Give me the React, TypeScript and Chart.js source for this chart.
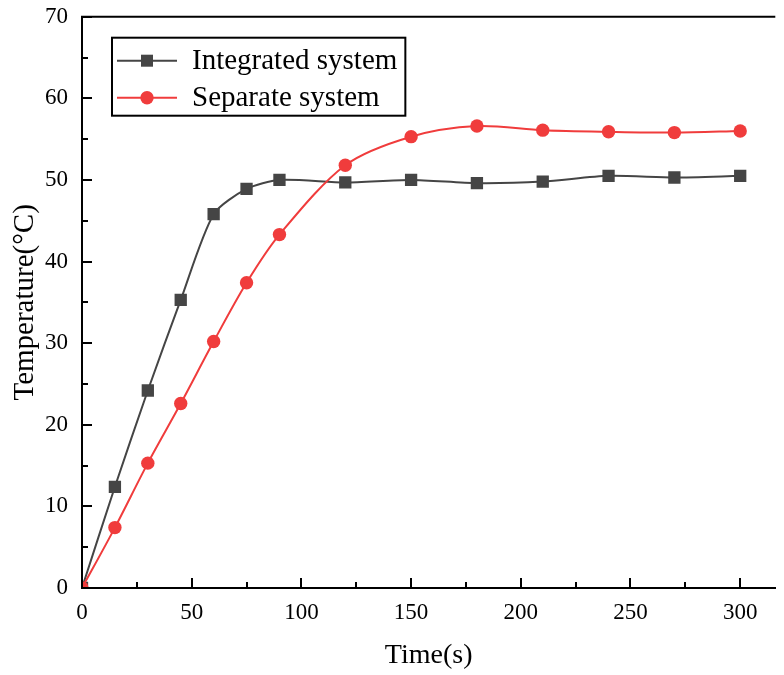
import React, { useEffect, useRef } from "react";
import { Chart, registerables } from "chart.js";

Chart.register(...registerables);

const timeS = [0, 15, 30, 45, 60, 75, 90, 120, 150, 180, 210, 240, 270, 300];
const integratedTemp = [0, 12.4, 24.2, 35.3, 45.8, 48.9, 50.0, 49.7, 50.0, 49.6, 49.8, 50.5, 50.3, 50.5];
const separateTemp = [0, 7.4, 15.3, 22.6, 30.2, 37.4, 43.3, 51.8, 55.3, 56.6, 56.1, 55.9, 55.8, 56.0];
const seriesLabels = ["Integrated system", "Separate system"];
const xTitle = "Time(s)";
const yTitle = "Temperature(\u00B0C)";

const FONT = "'Liberation Serif', 'Times New Roman', serif";
const GRAY = "#454545";
const RED = "#f03c3c";

const frameAndTicks = {
  id: "frameAndTicks",
  afterDatasetsDraw(chart: any) {
    const { ctx, chartArea, scales } = chart;
    const x = scales.x;
    const y = scales.y;
    ctx.save();
    ctx.strokeStyle = "#000";
    ctx.lineWidth = 2;
    ctx.beginPath();
    ctx.moveTo(chartArea.left - 1, chartArea.top);
    ctx.lineTo(chartArea.right, chartArea.top);
    ctx.stroke();
    for (let v = 0; v <= x.max; v += 25) {
      const px = Math.round(x.getPixelForValue(v));
      const len = v % 50 === 0 ? 10 : 6;
      ctx.beginPath();
      ctx.moveTo(px, chartArea.bottom);
      ctx.lineTo(px, chartArea.bottom - len);
      ctx.stroke();
    }
    for (let v = 0; v <= y.max; v += 5) {
      const py = Math.round(y.getPixelForValue(v));
      const len = v % 10 === 0 ? 10 : 6;
      ctx.beginPath();
      ctx.moveTo(chartArea.left, py);
      ctx.lineTo(chartArea.left + len, py);
      ctx.stroke();
    }
    ctx.restore();
  },
};

const boxLegend = {
  id: "boxLegend",
  afterDraw(chart: any) {
    const { ctx, chartArea } = chart;
    const left = chartArea.left + 30;
    const top = chartArea.top + 21;
    const rowH = 37;
    const textX = left + 80;
    ctx.save();
    ctx.font = `29px ${FONT}`;
    let maxW = 0;
    chart.data.datasets.forEach((ds: any) => {
      maxW = Math.max(maxW, ctx.measureText(ds.label).width);
    });
    const w = 80 + maxW + 8;
    const h = rowH * 2 + 4;
    ctx.strokeStyle = "#000";
    ctx.lineWidth = 2;
    ctx.strokeRect(left, top, w, h);
    chart.data.datasets.forEach((ds: any, i: number) => {
      const cy = top + 23 + i * rowH;
      ctx.strokeStyle = ds.borderColor;
      ctx.lineWidth = 2;
      ctx.beginPath();
      ctx.moveTo(left + 5, cy);
      ctx.lineTo(left + 65, cy);
      ctx.stroke();
      ctx.fillStyle = ds.pointBackgroundColor;
      if (ds.pointStyle === "rect") {
        ctx.fillRect(left + 35 - 6, cy - 6, 12, 12);
      } else {
        ctx.beginPath();
        ctx.arc(left + 35, cy, 6.7, 0, Math.PI * 2);
        ctx.fill();
      }
      ctx.fillStyle = "#000";
      ctx.textBaseline = "middle";
      ctx.textAlign = "left";
      ctx.fillText(ds.label, textX, cy + 1);
    });
    ctx.restore();
  },
};

export default function App() {
  const ref = useRef<HTMLCanvasElement | null>(null);
  useEffect(() => {
    if (!ref.current) return;
    const chart = new Chart(ref.current, {
      type: "line",
      data: {
        datasets: [
          {
            label: seriesLabels[0],
            data: timeS.map((t, i) => ({ x: t, y: integratedTemp[i] })),
            borderColor: GRAY,
            backgroundColor: GRAY,
            pointBackgroundColor: GRAY,
            pointBorderColor: GRAY,
            pointStyle: "rect",
            pointRadius: 8.7,
            pointBorderWidth: 0,
            borderWidth: 2,
            tension: 0.25,
            order: 1,
          },
          {
            label: seriesLabels[1],
            data: timeS.map((t, i) => ({ x: t, y: separateTemp[i] })),
            borderColor: RED,
            backgroundColor: RED,
            pointBackgroundColor: RED,
            pointBorderColor: RED,
            pointStyle: "circle",
            pointRadius: 6.7,
            pointBorderWidth: 0,
            borderWidth: 2,
            tension: 0.3,
            order: 0,
          },
        ],
      },
      options: {
        animation: false,
        responsive: true,
        maintainAspectRatio: false,
        layout: { padding: { top: 8, right: 0, left: 0, bottom: 0 } },
        plugins: { legend: { display: false }, tooltip: { enabled: false } },
        scales: {
          x: {
            type: "linear",
            min: 0,
            max: 316,
            grid: { display: false, drawTicks: false },
            border: { display: true, color: "#000", width: 2 },
            ticks: {
              stepSize: 50,
              includeBounds: false,
              padding: 11,
              color: "#000",
              font: { family: FONT, size: 23 },
              maxRotation: 0,
            },
            title: {
              display: true,
              text: xTitle,
              color: "#000",
              font: { family: FONT, size: 28 },
              padding: { top: 0, bottom: 3 },
            },
            afterFit: (s: any) => {
              s.height = 87;
              s.paddingLeft = 0;
              s.paddingRight = 0;
            },
          },
          y: {
            type: "linear",
            min: 0,
            max: 70,
            grid: { display: false, drawTicks: false },
            border: { display: true, color: "#000", width: 2 },
            ticks: {
              stepSize: 10,
              padding: 14,
              color: "#000",
              font: { family: FONT, size: 23 },
            },
            title: {
              display: true,
              text: yTitle,
              color: "#000",
              font: { family: FONT, size: 29 },
              padding: { top: 0, bottom: 0 },
            },
            afterFit: (s: any) => {
              s.width = 74;
              s.paddingTop = 0;
              s.paddingBottom = 0;
            },
          },
        },
      },
      plugins: [frameAndTicks, boxLegend],
    });
    return () => chart.destroy();
  }, []);
  return (
    <div style={{ width: 776, height: 667, position: "relative" }}>
      <canvas ref={ref} />
    </div>
  );
}
